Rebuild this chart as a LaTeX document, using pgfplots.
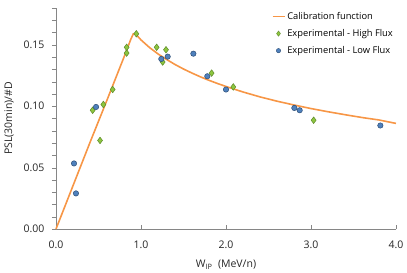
\documentclass[border=0pt]{standalone}
\usepackage{fontspec}
\setmainfont{Open Sans}
\usepackage{pgfplots}
\pgfplotsset{compat=1.18}
\definecolor{calib}{HTML}{F79646}
\definecolor{hgreen}{HTML}{8DC63F}
\definecolor{hgreenb}{HTML}{5E8A2A}
\definecolor{lblue}{HTML}{4F81BD}
\definecolor{lblueb}{HTML}{2C4D75}
\definecolor{axgray}{HTML}{868686}
\begin{document}
\begin{tikzpicture}
\begin{axis}[
  name=ax,
  scale only axis,
  width=340pt, height=221pt,
  xmin=0, xmax=4, ymin=0, ymax=0.18,
  axis x line=bottom, axis y line=left,
  axis line style={axgray, -},
  xtick={0,1,2,3,4},
  ytick={0,0.05,0.10,0.15},
  minor ytick={0.01,0.02,0.03,0.04,0.06,0.07,0.08,0.09,0.11,0.12,0.13,0.14,0.16,0.17,0.18},
  major tick length=4pt, minor tick length=4pt,
  tick style={axgray},
  xtick align=inside,
  ytick align=outside,
  x tick label style={yshift=-8pt, /pgf/number format/.cd, fixed, fixed zerofill, precision=1, assume math mode=true},
  y tick label style={xshift=-4pt, /pgf/number format/.cd, fixed, fixed zerofill, precision=2, assume math mode=true},
  tick label style={font=\fontsize{10.5}{12}\selectfont, text=black!85},
  xlabel={W\textsubscript{IP}\ \ (MeV/n)},
  ylabel={PSL(30min)/\#D},
  label style={font=\fontsize{10.5}{12}\selectfont, text=black!85},
  xlabel style={yshift=-5pt},
  ylabel style={yshift=3pt},
  legend style={draw=none, fill=none, at={(1,1)}, anchor=north east, font=\fontsize{9.3}{10}\selectfont, row sep=4.5pt, legend cell align=left, xshift=2pt, yshift=0pt},
  legend image code/.code={},
  clip=false,
]
\addplot[calib, line width=1.6pt, legend image code/.code={\draw[calib,line width=1.6pt](0pt,0pt)--(12pt,0pt);}] coordinates {
 (0,0) (0.4,0.0705) (0.6,0.1050) (0.8,0.1400) (0.88,0.1545) (0.91,0.1590) (0.935,0.1589)
 (0.97,0.1563) (1.0,0.1540) (1.1,0.1478) (1.2,0.1426) (1.3,0.1381)
 (1.4,0.1340) (1.5,0.1303) (1.6,0.1270) (1.7,0.1239) (1.8,0.1211)
 (1.9,0.1185) (2.0,0.1161) (2.2,0.1116) (2.4,0.1076) (2.6,0.1041)
 (2.8,0.1010) (3.0,0.0981) (3.2,0.0955) (3.4,0.0931) (3.6,0.0908)
 (3.8,0.0888) (4.0,0.0860)
};
\addlegendentry{Calibration function}
\addplot[only marks, mark=diamond*, mark size=3.3pt, mark options={fill=hgreen, draw=hgreenb, line width=0.5pt}, legend image code/.code={\draw[mark=diamond*, mark size=2.6pt, mark options={fill=hgreen, draw=hgreenb, line width=0.4pt}] plot coordinates {(6pt,0pt)};}] coordinates {
 (0.431,0.0967) (0.557,0.1014) (0.667,0.1136) (0.831,0.1433) (0.831,0.1480)
 (0.945,0.1590) (1.184,0.1480) (1.294,0.1460) (1.255,0.1360) (0.518,0.0721)
 (1.831,0.1270) (2.086,0.1157) (3.031,0.0886)
};
\addlegendentry{Experimental - High Flux}
\addplot[only marks, mark=*, mark size=2.7pt, mark options={fill=lblue, draw=lblueb, line width=0.5pt}, legend image code/.code={\draw[mark=*, mark size=2.2pt, mark options={fill=lblue, draw=lblueb, line width=0.4pt}] plot coordinates {(6pt,0pt)};}] coordinates {
 (0.471,0.0994) (1.239,0.1385) (1.314,0.1404) (1.616,0.1428) (1.780,0.1244)
 (2.000,0.1136) (2.804,0.0986) (2.867,0.0967) (3.816,0.0843)
 (0.212,0.0534) (0.235,0.0290)
};
\addlegendentry{Experimental - Low Flux}
\end{axis}
\pgfresetboundingbox
\path (ax.south west) ++(-56pt,-44pt) coordinate (bl);
\path (ax.north east) ++(11pt,8pt) coordinate (tr);
\useasboundingbox (bl) rectangle (tr);
\end{tikzpicture}
\end{document}
